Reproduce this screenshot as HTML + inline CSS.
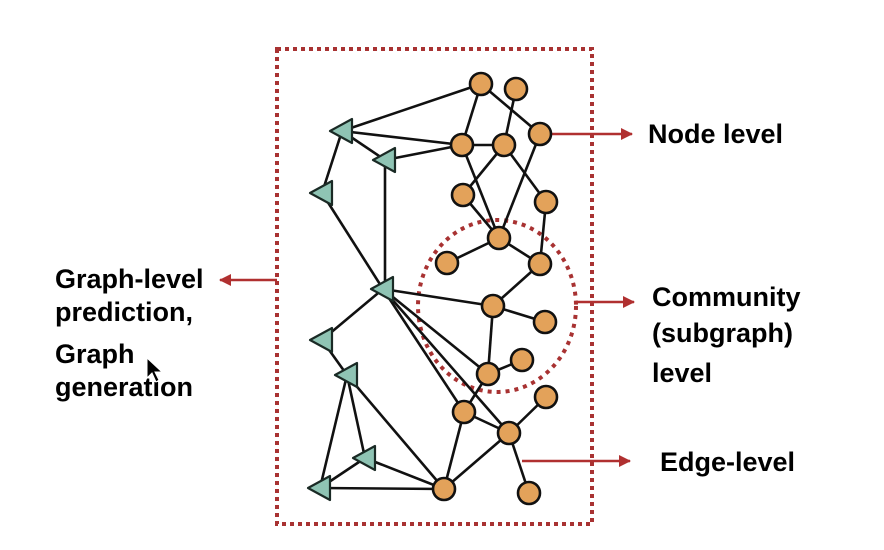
<!DOCTYPE html>
<html><head><meta charset="utf-8"><style>
html,body{margin:0;padding:0;background:#fff;}
svg{display:block;}
text{font-family:"Liberation Sans",Arial,sans-serif;font-weight:bold;font-size:27px;fill:#000;}
</style></head><body>
<svg width="884" height="550" viewBox="0 0 884 550" xmlns="http://www.w3.org/2000/svg">
<defs>
<marker id="ah" markerWidth="12" markerHeight="12" refX="11" refY="6" orient="auto" markerUnits="userSpaceOnUse">
<path d="M0,0 L12,6 L0,12 Z" fill="#b03030"/>
</marker>
</defs>
<rect x="0" y="0" width="884" height="550" fill="#fff"/>
<rect x="277" y="49" width="315" height="475" fill="none" stroke="#a83232" stroke-width="4" stroke-dasharray="4,4"/>
<ellipse cx="497" cy="306" rx="79" ry="86" fill="none" stroke="#a83232" stroke-width="4" stroke-dasharray="4,5"/>
<g stroke="#b03030" stroke-width="2.5" fill="none">
<line x1="551" y1="134" x2="632" y2="134" marker-end="url(#ah)"/>
<line x1="277" y1="280" x2="220" y2="280" marker-end="url(#ah)"/>
<line x1="576" y1="302" x2="634" y2="302" marker-end="url(#ah)"/>
<line x1="522" y1="461" x2="630" y2="461" marker-end="url(#ah)"/>
</g>
<g stroke="#111" stroke-width="2.6">
<line x1="481" y1="84" x2="342" y2="131"/>
<line x1="481" y1="84" x2="462" y2="145"/>
<line x1="481" y1="84" x2="540" y2="134"/>
<line x1="516" y1="89" x2="504" y2="145"/>
<line x1="462" y1="145" x2="342" y2="131"/>
<line x1="462" y1="145" x2="385" y2="160"/>
<line x1="462" y1="145" x2="504" y2="145"/>
<line x1="462" y1="145" x2="499" y2="238"/>
<line x1="504" y1="145" x2="463" y2="195"/>
<line x1="540" y1="134" x2="499" y2="238"/>
<line x1="504" y1="145" x2="546" y2="202"/>
<line x1="463" y1="195" x2="499" y2="238"/>
<line x1="499" y1="238" x2="447" y2="263"/>
<line x1="499" y1="238" x2="540" y2="264"/>
<line x1="546" y1="202" x2="540" y2="264"/>
<line x1="342" y1="131" x2="385" y2="160"/>
<line x1="342" y1="131" x2="322" y2="193"/>
<line x1="322" y1="193" x2="383" y2="289"/>
<line x1="385" y1="160" x2="385" y2="289"/>
<line x1="540" y1="264" x2="493" y2="306"/>
<line x1="493" y1="306" x2="545" y2="322"/>
<line x1="493" y1="306" x2="383" y2="289"/>
<line x1="493" y1="306" x2="488" y2="374"/>
<line x1="488" y1="374" x2="522" y2="360"/>
<line x1="383" y1="289" x2="488" y2="374"/>
<line x1="383" y1="289" x2="464" y2="412"/>
<line x1="383" y1="289" x2="509" y2="433"/>
<line x1="383" y1="289" x2="322" y2="340"/>
<line x1="322" y1="340" x2="347" y2="375"/>
<line x1="347" y1="375" x2="320" y2="488"/>
<line x1="347" y1="375" x2="365" y2="458"/>
<line x1="347" y1="375" x2="444" y2="489"/>
<line x1="365" y1="458" x2="444" y2="489"/>
<line x1="320" y1="488" x2="444" y2="489"/>
<line x1="365" y1="458" x2="320" y2="488"/>
<line x1="488" y1="374" x2="464" y2="412"/>
<line x1="464" y1="412" x2="509" y2="433"/>
<line x1="464" y1="412" x2="444" y2="489"/>
<line x1="509" y1="433" x2="444" y2="489"/>
<line x1="509" y1="433" x2="546" y2="397"/>
<line x1="509" y1="433" x2="529" y2="493"/>
</g>
<g fill="#8fc4b4" stroke="#1a2a25" stroke-width="2.2" stroke-linejoin="round">
<polygon points="330,131 352,119 352,143"/>
<polygon points="373,160 395,148 395,172"/>
<polygon points="310,193 332,181 332,205"/>
<polygon points="371,289 393,277 393,301"/>
<polygon points="310,340 332,328 332,352"/>
<polygon points="335,375 357,363 357,387"/>
<polygon points="353,458 375,446 375,470"/>
<polygon points="308,488 330,476 330,500"/>
</g>
<g fill="#e3a25a" stroke="#111" stroke-width="2.6">
<circle cx="481" cy="84" r="11"/><circle cx="516" cy="89" r="11"/>
<circle cx="462" cy="145" r="11"/><circle cx="504" cy="145" r="11"/>
<circle cx="540" cy="134" r="11"/><circle cx="463" cy="195" r="11"/>
<circle cx="546" cy="202" r="11"/><circle cx="499" cy="238" r="11"/>
<circle cx="447" cy="263" r="11"/><circle cx="540" cy="264" r="11"/>
<circle cx="493" cy="306" r="11"/><circle cx="545" cy="322" r="11"/>
<circle cx="522" cy="360" r="11"/><circle cx="488" cy="374" r="11"/>
<circle cx="464" cy="412" r="11"/><circle cx="509" cy="433" r="11"/>
<circle cx="546" cy="397" r="11"/><circle cx="444" cy="489" r="11"/>
<circle cx="529" cy="493" r="11"/>
</g>
<text x="648" y="143">Node level</text>
<text x="55" y="288">Graph-level</text>
<text x="55" y="321">prediction,</text>
<text x="55" y="363">Graph</text>
<text x="55" y="396">generation</text>
<text x="652" y="306">Community</text>
<text x="652" y="342">(subgraph)</text>
<text x="652" y="382">level</text>
<text x="660" y="471">Edge-level</text>
<polygon points="147,358 147,378 152,373 156,382 159,380 155,372 162,372" fill="#000" stroke="#fff" stroke-width="1"/>
</svg>
</body></html>
